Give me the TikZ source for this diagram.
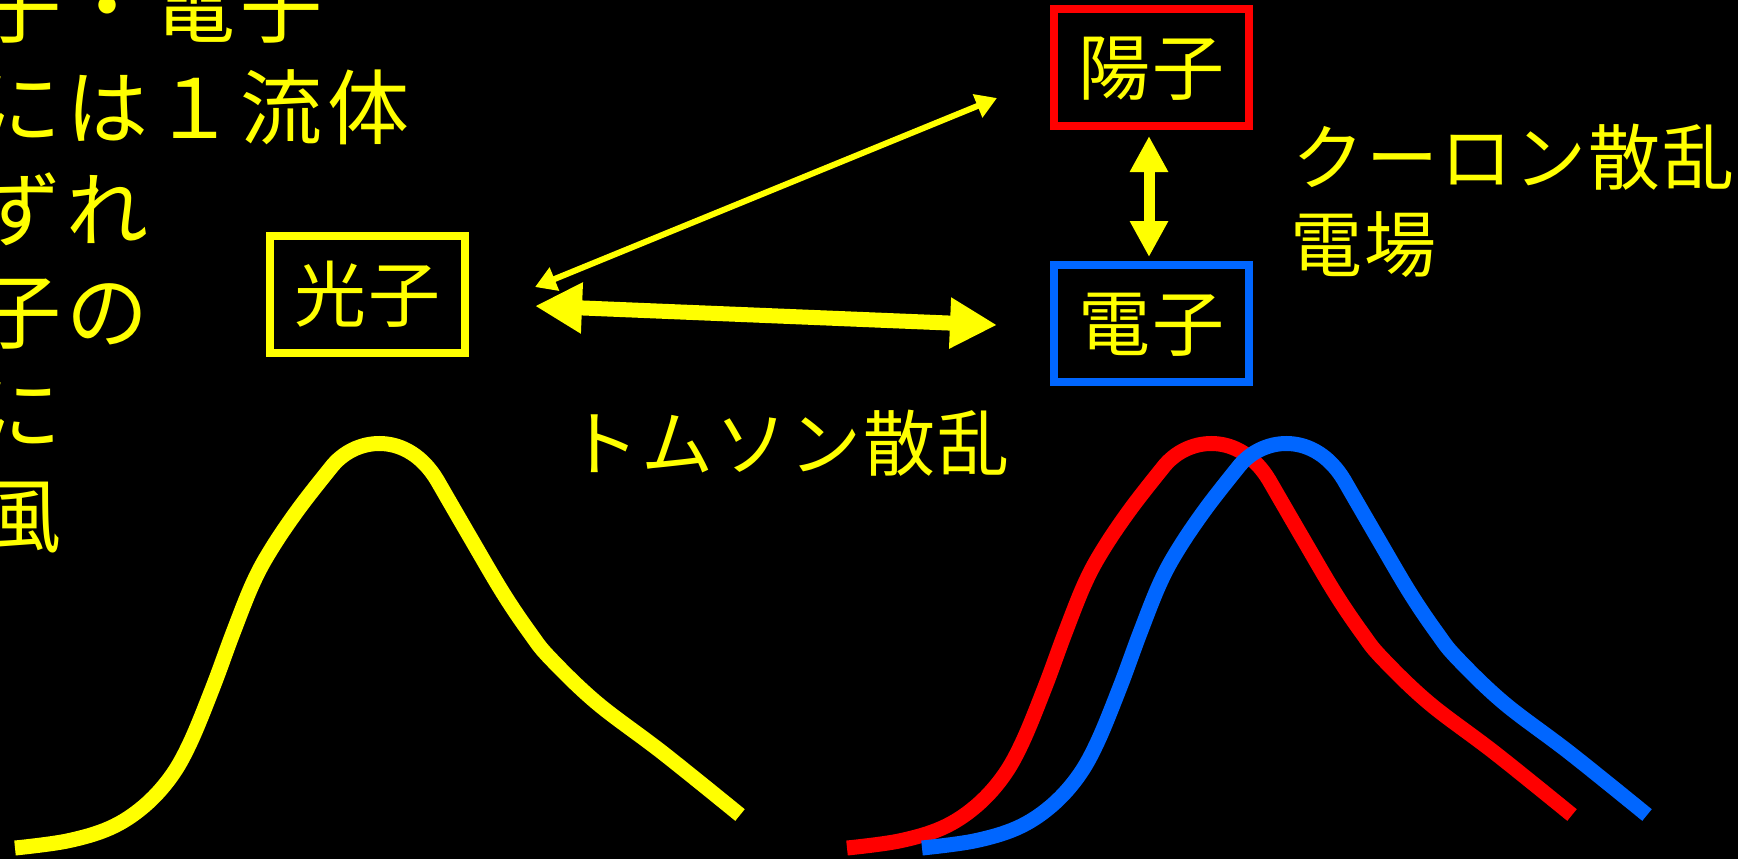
\documentclass[tikz,border=0pt]{standalone}
\usepackage{fontspec}
\newfontfamily\jpfontL[LetterSpace=6.1]{Noto Sans CJK JP}
\newfontfamily\jpfontS[LetterSpace=2.8]{Noto Sans CJK JP}
\usetikzlibrary{arrows.meta,calc}
\definecolor{yel}{RGB}{255,255,0}
\definecolor{pblue}{RGB}{0,102,255}
\definecolor{pred}{RGB}{255,0,0}
\begin{document}
\begin{tikzpicture}[x=0.5pt,y=-0.5pt,
  lbl/.style={text=yel, font=\jpfontS\fontsize{36pt}{40pt}\selectfont, inner sep=0pt, text height=29.9pt, text depth=2.5pt},
  big/.style={text=yel, font=\jpfontL\fontsize{41pt}{45pt}\selectfont, inner sep=0pt, anchor=west, text height=34pt, text depth=2.9pt},
  pbox/.style={lbl, draw=#1, line width=4pt, minimum width=97.5pt, minimum height=58.5pt},
  curve/.style={draw=#1, line width=7.5pt, line join=round},
  thinarrow/.style={draw=yel, line width=3pt, {Triangle[width=12pt,length=10.5pt]}-{Triangle[width=12pt,length=10.5pt]}},
  thickarrow/.style={draw=yel, line width=7.5pt, {Triangle[width=24pt,length=23.5pt]}-{Triangle[width=24pt,length=23.5pt]}},
  vertarrow/.style={draw=yel, line width=5.5pt, {Triangle[width=18pt,length=18pt]}-{Triangle[width=18pt,length=18pt]}}
]
\useasboundingbox (0,0) rectangle (1738,859);
\clip (0,0) rectangle (1738,859);
\fill[black] (0,0) rectangle (1738,859);

% left text (cut off at the left edge, as in the reference)
\node[big] (l1) at (-21,5) {子・電子};
\node[big] (l2) at (-21,107) {には１流体};
\node[big] (l3) at (-21,209) {ずれ};
\node[big] (l4) at (-21,311) {子の};
\node[big] (l5) at (-21,413) {に};
\node[big] (l6) at (-21,515) {風};

% boxes
\node[pbox=yel] (koushi) at (367.5,294.5) {光子};
\node[pbox=pred] (youshi) at (1151.5,67.5) {陽子};
\node[pbox=pblue] (denshi) at (1151.5,323.5) {電子};

% labels
\node[lbl, anchor=west] (thomson) at (567,443) {トムソン散乱};
\node[lbl, anchor=west] (coulomb) at (1292,157) {クーロン散乱};
\node[lbl, anchor=west] (efield) at (1290,244) {電場};

% arrows
\coordinate (a1) at ($(koushi.east)+(66,-7.5)$);
\coordinate (a2) at ($(youshi.west)+(-53,30.5)$);
\coordinate (b1) at ($(koushi.east)+(66,11.5)$);
\coordinate (b2) at ($(denshi.west)+(-53,1.5)$);
\coordinate (c1) at ($(youshi.south)+(-2.5,6)$);
\coordinate (c2) at ($(denshi.north)+(-2.5,-4)$);
\draw[thinarrow] (a1) -- (a2);
\draw[thickarrow] (b1) -- (b2);
\draw[vertarrow] (c1) -- (c2);

% distribution curves
\foreach \dx/\col in {0/yel, 832/pred, 907/pblue}{
  \draw[curve=\col, shift={(\dx,0)}]
    plot[smooth, tension=0.6] coordinates {
      (15,848) (67,841) (110,828) (143,807) (170,778) (190,743) (213,687)
      (233,633) (253,583) (272,548) (300,507) (333,465)}
    .. controls (358,436) and (408,432) .. (437,480)
    -- plot[smooth, tension=0.6] coordinates {
      (437,480) (470,537) (503,593) (530,633) (550,658) (597,703)
      (663,753) (740,815)};
}
\end{tikzpicture}
\end{document}
